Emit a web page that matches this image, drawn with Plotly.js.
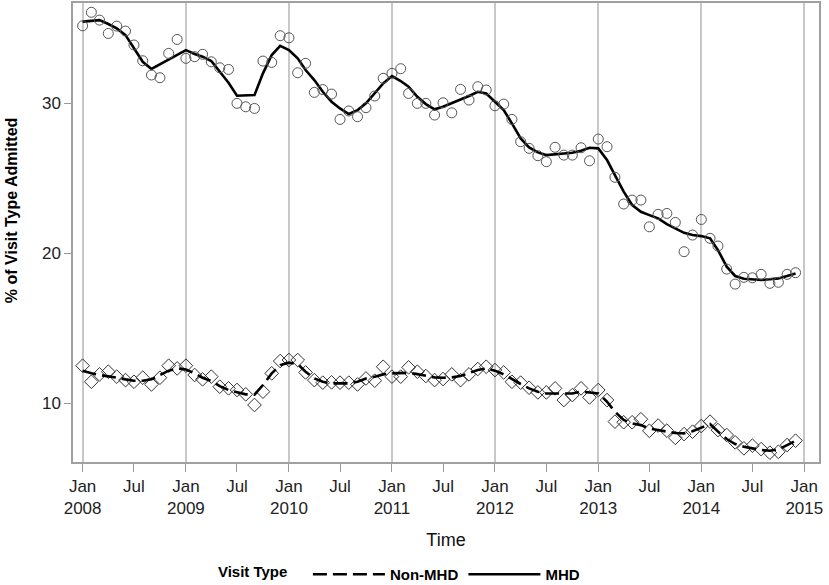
<!DOCTYPE html>
<html>
<head>
<meta charset="utf-8">
<script src="https://cdn.plot.ly/plotly-3.0.1.min.js"></script>
<style>
  html, body { margin: 0; padding: 0; background: #fff; }
  #chart { width: 829px; height: 585px; }
</style>
</head>
<body>
<div id="chart"></div>
<script>
// monthly values, Jan 2008 .. Dec 2014
const years = [2008, 2009, 2010, 2011, 2012, 2013, 2014];

const mhdObserved = [
    35.15, 36.05, 35.53, 34.64, 35.13, 34.8, 33.87, 32.82, 31.87, 31.69, 33.31, 34.24,
    32.98, 33.09, 33.25, 32.75, 32.35, 32.24, 29.98, 29.75, 29.64, 32.8, 32.71, 34.49,
    34.35, 32.02, 32.65, 30.71, 30.9, 30.6, 28.91, 29.47, 29.09, 29.69, 30.47, 31.65,
    31.98, 32.29, 30.64, 29.98, 29.98, 29.2, 30.02, 29.35, 30.91, 30.2, 31.09, 30.87,
    29.82, 29.93, 28.91, 27.42, 26.98, 26.49, 26.09, 27.05, 26.53, 26.53, 27.02, 26.15,
    27.6, 27.09, 25.05, 23.27, 23.53, 23.53, 21.75, 22.58, 22.64, 22.04, 20.09, 21.2,
    22.24, 20.98, 20.47, 18.93, 17.93, 18.38, 18.35, 18.58, 17.98, 18.05, 18.58, 18.69
];
const mhdSmooth = [
    35.43, 35.5, 35.53, 35.27, 34.98, 34.53, 33.64, 32.75, 32.27, 32.58, 32.91, 33.25,
    33.53, 33.27, 33.09, 32.8, 32.09, 31.35, 30.49, 30.49, 30.53, 31.98, 33.2, 33.82,
    33.53, 32.98, 32.2, 31.53, 30.75, 30.09, 29.64, 29.27, 29.53, 29.98, 30.64, 31.31,
    31.8, 31.47, 31.09, 30.42, 29.93, 29.58, 29.75, 29.98, 30.24, 30.47, 30.75, 30.64,
    30.09, 29.53, 28.64, 27.64, 27.04, 26.71, 26.53, 26.6, 26.64, 26.69, 26.82, 27.02,
    26.98, 26.2, 25.2, 24.09, 23.2, 22.75, 22.53, 22.31, 21.93, 21.64, 21.35, 21.2,
    21.13, 20.98, 20.2, 19.09, 18.47, 18.29, 18.25, 18.2, 18.25, 18.31, 18.47, 18.64
];
const nonObserved = [
    12.49, 11.42, 11.91, 12.09, 11.76, 11.53, 11.42, 11.69, 11.24, 11.69, 12.49, 12.31,
    12.49, 11.87, 11.58, 11.76, 11.09, 10.98, 10.87, 10.58, 9.87, 10.76, 11.98, 12.8,
    12.87, 12.87, 12.04, 11.53, 11.36, 11.38, 11.36, 11.36, 11.24, 11.64, 11.49, 12.42,
    11.76, 11.76, 12.38, 12.09, 11.8, 11.53, 11.6, 11.91, 11.53, 11.91, 12.27, 12.42,
    12.2, 12.04, 11.42, 11.36, 11.02, 10.71, 10.71, 10.98, 10.2, 10.53, 10.98, 10.38,
    10.87, 10.2, 8.76, 8.72, 8.72, 8.92, 8.15, 8.5, 8.16, 7.68, 7.93, 8.09,
    8.47, 8.76, 8.2, 7.87, 7.38, 6.98, 7.16, 6.93, 6.69, 6.75, 7.2, 7.49
];
const nonSmooth = [
    12.16, 11.98, 11.87, 11.8, 11.69, 11.58, 11.49, 11.49, 11.58, 11.87, 12.16, 12.31,
    12.24, 11.98, 11.69, 11.47, 11.13, 10.87, 10.71, 10.58, 10.56, 11.2, 11.98, 12.53,
    12.69, 12.6, 12.09, 11.64, 11.42, 11.31, 11.31, 11.31, 11.42, 11.64, 11.76, 11.91,
    11.98, 12.02, 12.02, 11.93, 11.82, 11.71, 11.69, 11.71, 11.8, 11.98, 12.2, 12.31,
    12.16, 11.91, 11.58, 11.27, 10.98, 10.76, 10.64, 10.64, 10.6, 10.64, 10.76, 10.71,
    10.64, 10.09, 9.42, 8.87, 8.64, 8.53, 8.3, 8.2, 8.1, 8.0, 7.98, 8.12,
    8.36, 8.6, 8.1, 7.6, 7.27, 7.09, 6.98, 6.87, 6.82, 6.91, 7.2, 7.49
];

// month dates
const months = [];
years.forEach(y => {
    for (let m = 1; m <= 12; m++) months.push(y + '-' + String(m).padStart(2, '0') + '-01');
});

// Jan / Jul tick labels, gridlines only at Jan
const tickVals = [];
const tickText = [];
const yearVals = [];
years.concat([2015]).forEach(y => {
    tickVals.push(y + '-01-01');
    tickText.push('Jan<br>' + y);
    yearVals.push(y + '-01-01');
    if (y < 2015) {
        tickVals.push(y + '-07-01');
        tickText.push('Jul');
    }
});

const xRange = ['2007-11-28', '2015-02-22'];
const frame = '#a0a0a0';
const tickFont = { family: 'Liberation Sans, Arial, sans-serif', size: 17, color: '#222' };

const data = [
    {
        x: months, y: mhdObserved, xaxis: 'x2', type: 'scatter', mode: 'markers',
        marker: { symbol: 'circle-open', size: 10, color: '#555', line: { width: 1 } },
        showlegend: false, hoverinfo: 'skip'
    },
    {
        x: months, y: nonObserved, type: 'scatter', mode: 'markers',
        marker: { symbol: 'diamond-open', size: 10.5, color: '#333', line: { width: 1 } },
        showlegend: false, hoverinfo: 'skip'
    },
    {
        x: months, y: nonSmooth, type: 'scatter', mode: 'lines', name: 'Non-MHD',
        line: { color: '#000', width: 2.6, dash: '14px,6px' }
    },
    {
        x: months, y: mhdSmooth, type: 'scatter', mode: 'lines', name: 'MHD',
        line: { color: '#000', width: 2.6 }
    }
];

const layout = {
    width: 829,
    height: 585,
    margin: { l: 73, r: 10, t: 3, b: 123 },
    paper_bgcolor: '#fff',
    plot_bgcolor: '#fff',
    font: { family: 'Liberation Sans, Arial, sans-serif', color: '#000' },
    showlegend: true,
    xaxis: {
        type: 'date',
        range: xRange,
        tickmode: 'array',
        tickvals: tickVals,
        ticktext: tickText,
        tickfont: tickFont,
        ticks: 'outside',
        ticklen: 8,
        tickcolor: '#999',
        showgrid: false,
        zeroline: false,
        showline: true,
        mirror: true,
        linecolor: frame,
        linewidth: 1.5,
        title: { text: 'Time', font: { size: 18, color: '#111' }, standoff: 16 }
    },
    xaxis2: {
        type: 'date',
        overlaying: 'x',
        range: xRange,
        tickmode: 'array',
        tickvals: yearVals,
        showticklabels: false,
        ticks: '',
        showgrid: true,
        gridcolor: '#c8c8c8',
        gridwidth: 1.5,
        zeroline: false,
        showline: false
    },
    yaxis: {
        range: [6.07, 36.67],
        tickmode: 'array',
        tickvals: [10, 20, 30],
        tickfont: tickFont,
        ticks: 'outside',
        ticklen: 7,
        tickcolor: '#999',
        showgrid: false,
        zeroline: false,
        showline: true,
        mirror: true,
        linecolor: frame,
        linewidth: 1.5
    },
    legend: {
        orientation: 'h',
        xref: 'container',
        yref: 'container',
        x: 0.483,
        xanchor: 'center',
        y: 0.018,
        yanchor: 'middle',
        title: { text: '<b>Visit Type</b>&nbsp;&nbsp;&nbsp;', side: 'left', font: { size: 15 } },
        font: { size: 15, weight: 'bold' },
        itemwidth: 72
    },
    annotations: [{
        text: '<b>% of Visit Type Admitted</b>',
        xref: 'paper', yref: 'paper',
        x: -0.097, y: 0.549,
        textangle: -90,
        showarrow: false,
        font: { size: 16, color: '#000' }
    }]
};

Plotly.newPlot(document.getElementById('chart'), data, layout, { displayModeBar: false });
</script>
</body>
</html>
